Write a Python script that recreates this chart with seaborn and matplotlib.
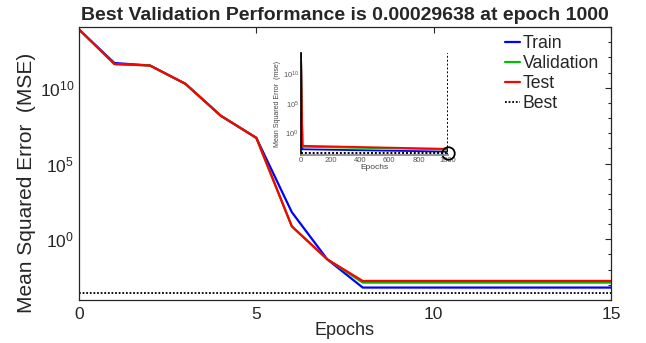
import numpy as np
import pandas as pd
import matplotlib
matplotlib.use("Agg")
import matplotlib.pyplot as plt
from matplotlib.lines import Line2D
from matplotlib.ticker import NullFormatter, FixedLocator
import seaborn as sns

# ---------------- data ----------------
epochs = [0, 1, 2, 3, 4, 5, 6, 7, 8, 9, 10, 11, 12, 13, 14, 15]
train = [6.9e13, 4.2e11, 2.9e11, 1.8e10, 1.4e8, 4.9e6, 62, 0.048,
         6.6e-4, 6.6e-4, 6.6e-4, 6.6e-4, 6.6e-4, 6.6e-4, 6.6e-4, 6.6e-4]
validation = [6.9e13, 3.6e11, 2.9e11, 1.8e10, 1.4e8, 4.9e6, 7.2, 0.048,
              1.4e-3, 1.4e-3, 1.4e-3, 1.4e-3, 1.4e-3, 1.4e-3, 1.4e-3, 1.4e-3]
test = [6.9e13, 3.6e11, 2.9e11, 1.8e10, 1.4e8, 4.9e6, 7.2, 0.048,
        1.8e-3, 1.8e-3, 1.8e-3, 1.8e-3, 1.8e-3, 1.8e-3, 1.8e-3, 1.8e-3]
best_perf = 0.00029638
best_epoch = 1000

inset_epochs = [0, 10, 1000]
inset_train = [5e13, 1.5e-3, 6e-4]
inset_validation = [5e13, 4e-3, 1.4e-3]
inset_test = [5e13, 6e-3, 1.8e-3]

series_names = ["Train", "Validation", "Test"]
colors = {"Train": "#0000ff", "Validation": "#00c000", "Test": "#ff0000"}
title = "Best Validation Performance is 0.00029638 at epoch 1000"

# ---------------- style ----------------
sns.set_theme(style="white")
plt.rcParams["font.family"] = ["Liberation Sans", "DejaVu Sans"]
plt.rcParams["mathtext.fontset"] = "custom"
plt.rcParams["mathtext.rm"] = "Liberation Sans"
plt.rcParams["mathtext.it"] = "Liberation Sans"

df = pd.DataFrame({
    "Epochs": epochs * 3,
    "MSE": train + validation + test,
    "Series": ["Train"] * len(epochs) + ["Validation"] * len(epochs) + ["Test"] * len(epochs),
})
dfi = pd.DataFrame({
    "Epochs": inset_epochs * 3,
    "MSE": inset_train + inset_validation + inset_test,
    "Series": ["Train"] * 3 + ["Validation"] * 3 + ["Test"] * 3,
})

fig = plt.figure(figsize=(6.46, 3.43), dpi=100)
ax = fig.add_axes([79 / 646, 1 - 300 / 343, (611 - 79) / 646, (300 - 27) / 343])

sns.lineplot(data=df, x="Epochs", y="MSE", hue="Series", hue_order=series_names,
             palette=colors, linewidth=1.6, ax=ax, legend=False)
ax.axhline(best_perf, color="black", linestyle=(0, (1, 1)), linewidth=1.3)
ax.set_yscale("log")
ax.set_xlim(0, 15)
ax.set_ylim(1e-4, 1e14)
ax.set_xticks([0, 5, 10, 15])
ax.yaxis.set_major_locator(FixedLocator([1e0, 1e5, 1e10]))
ax.yaxis.set_minor_locator(FixedLocator([10.0 ** k for k in range(-4, 15)]))
ax.yaxis.set_minor_formatter(NullFormatter())
ax.tick_params(axis="both", which="both", direction="in", top=True, right=True,
               labelsize=12.5, colors="#262626", labelcolor="#262626")
ax.tick_params(which="major", length=4, width=0.8)
ax.tick_params(which="minor", length=2.5, width=0.8)
ax.tick_params(axis="x", pad=5)
for s in ax.spines.values():
    s.set_color("#262626")
    s.set_linewidth(0.9)
ax.set_xlabel("Epochs", fontsize=13, color="#262626", labelpad=0)
ax.set_ylabel("Mean Squared Error  (MSE)", fontsize=15, color="#262626")
ax.yaxis.set_label_coords(-0.08, 0.43)
ax.set_title(title, fontsize=14, fontweight="bold", pad=5)

handles = [Line2D([], [], color=colors[n], linewidth=1.6) for n in series_names]
handles.append(Line2D([], [], color="black", linestyle=(0, (1, 1)), linewidth=1.3))
leg = ax.legend(handles, series_names + ["Best"], loc="upper left",
                bbox_to_anchor=(505 / 646, 1 - 35 / 343), bbox_transform=fig.transFigure,
                frameon=False, fontsize=12.7, handlelength=0.85, handletextpad=0.15,
                labelspacing=0.17, borderpad=0, borderaxespad=0)

# ---------------- inset ----------------
axi = fig.add_axes([301 / 646, 1 - 155 / 343, (448 - 301) / 646, (155 - 53) / 343])
sns.lineplot(data=dfi, x="Epochs", y="MSE", hue="Series", hue_order=series_names,
             palette=colors, linewidth=1.3, ax=axi, legend=False)
axi.set_yscale("log")
axi.set_xlim(0, 1000)
axi.set_ylim(10 ** -3.8, 10 ** 13.7)
axi.axhline(best_perf, color="black", linestyle=(0, (1, 1)), linewidth=1.4)
axi.axvline(best_epoch, color="black", linestyle=(0, (1, 1)), linewidth=1.4)
axi.plot([best_epoch], [best_perf], marker="o", markersize=9, markerfacecolor="none",
         markeredgecolor="black", markeredgewidth=1.3, clip_on=False)
axi.set_xticks([0, 200, 400, 600, 800, 1000])
axi.yaxis.set_major_locator(FixedLocator([1e0, 1e5, 1e10]))
axi.yaxis.set_minor_locator(FixedLocator([]))
axi.tick_params(axis="both", which="both", labelsize=5.5, length=0, pad=1.5,
                labelcolor="#555555")
axi.spines["top"].set_visible(False)
axi.spines["right"].set_visible(False)
axi.spines["left"].set_color("black")
axi.spines["bottom"].set_color("#888888")
axi.patch.set_alpha(0)
axi.set_xlabel("Epochs", fontsize=6, color="#444444", labelpad=0)
axi.set_ylabel("Mean Squared Error  (mse)", fontsize=5, color="#444444", labelpad=1)

fig.savefig("out.png", dpi=100)
